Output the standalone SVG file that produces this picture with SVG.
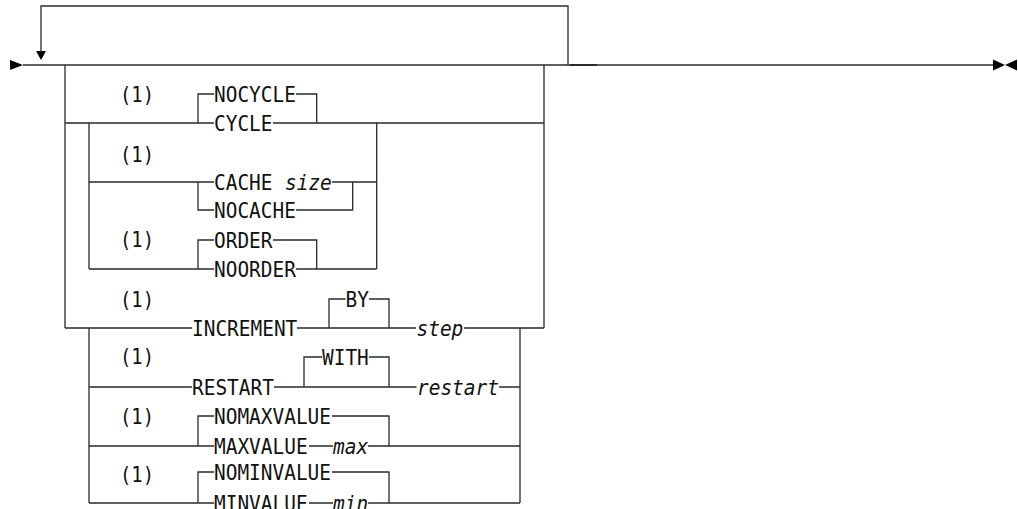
<svg xmlns="http://www.w3.org/2000/svg" width="1018" height="509" viewBox="0 0 1018 509">
<style>
.ln{fill:none;stroke:#2a2a2a;stroke-width:1.3}
.ah{fill:#000}
text{font-family:"DejaVu Sans Mono","Liberation Mono",monospace;font-size:21px;fill:#111}
.it{font-style:italic}
</style>
<rect width="1018" height="509" fill="#fff"/>
<g id="connectors">
<path class="ln" d="M23 65H993"/>
<path class="ln" d="M570 65H597" style="stroke-width:2"/>
<path class="ln" d="M568 65V6H41V52"/>
<path class="ln" d="M65 65V328M544 65V328"/>
<path class="ln" d="M65 123H214M273 123H544M198 123V94H214M296 94H316.7V123"/>
<path class="ln" d="M89 123V269M376.7 123V269"/>
<path class="ln" d="M89 182H214M332 182H376.7M198 182V210H214M296 210H352.7V182"/>
<path class="ln" d="M89 269H214M198 269V240H214M273 240H316.7V269M296 269H376.7"/>
<path class="ln" d="M65 328H192M297 328H416M464 328H544M329 328V299H345.5M369 299H389V328"/>
<path class="ln" d="M89 328V503M520 328V503"/>
<path class="ln" d="M89 387H192M274 387H416.5M499 387H520M304 387V357H322M369 357H389V387"/>
<path class="ln" d="M89 446H214M198 446V416H214M332 416H389V446M309 446H333M368 446H520"/>
<path class="ln" d="M89 503H214M198 503V472H214M332 472H389V503M309 503H333M368 503H520"/>
<polygon class="ah" points="10,60 23,65 10,70"/>
<polygon class="ah" points="36,51 46,51 41,60"/>
<polygon class="ah" points="993,59.5 1005,65 993,70.5"/>
<polygon class="ah" points="1017,59.5 1005,65 1017,70.5"/>
</g>
<g id="cycle">
<text x="120" y="102" textLength="34" lengthAdjust="spacingAndGlyphs">(1)</text>
<text x="214" y="102" textLength="81.9" lengthAdjust="spacingAndGlyphs">NOCYCLE</text>
<text x="214" y="131" textLength="58.5" lengthAdjust="spacingAndGlyphs">CYCLE</text>
</g>
<g id="cache">
<text x="120" y="161.5" textLength="34" lengthAdjust="spacingAndGlyphs">(1)</text>
<text x="214" y="190" textLength="58.5" lengthAdjust="spacingAndGlyphs">CACHE</text>
<text class="it" x="285" y="190" textLength="46.8" lengthAdjust="spacingAndGlyphs">size</text>
<text x="214" y="218" textLength="81.9" lengthAdjust="spacingAndGlyphs">NOCACHE</text>
</g>
<g id="order">
<text x="120" y="247" textLength="34" lengthAdjust="spacingAndGlyphs">(1)</text>
<text x="214" y="248" textLength="58.5" lengthAdjust="spacingAndGlyphs">ORDER</text>
<text x="214" y="277" textLength="81.9" lengthAdjust="spacingAndGlyphs">NOORDER</text>
</g>
<g id="increment">
<text x="120" y="307" textLength="34" lengthAdjust="spacingAndGlyphs">(1)</text>
<text x="192" y="336" textLength="105.3" lengthAdjust="spacingAndGlyphs">INCREMENT</text>
<text x="345.5" y="307" textLength="23.4" lengthAdjust="spacingAndGlyphs">BY</text>
<text class="it" x="416.5" y="336" textLength="46.8" lengthAdjust="spacingAndGlyphs">step</text>
</g>
<g id="restart">
<text x="120" y="364" textLength="34" lengthAdjust="spacingAndGlyphs">(1)</text>
<text x="192" y="395" textLength="81.9" lengthAdjust="spacingAndGlyphs">RESTART</text>
<text x="322" y="365" textLength="46.8" lengthAdjust="spacingAndGlyphs">WITH</text>
<text class="it" x="417" y="395" textLength="81.9" lengthAdjust="spacingAndGlyphs">restart</text>
</g>
<g id="maxvalue">
<text x="120" y="424" textLength="34" lengthAdjust="spacingAndGlyphs">(1)</text>
<text x="214" y="424" textLength="117" lengthAdjust="spacingAndGlyphs">NOMAXVALUE</text>
<text x="214" y="454" textLength="93.6" lengthAdjust="spacingAndGlyphs">MAXVALUE</text>
<text class="it" x="333" y="454" textLength="35.1" lengthAdjust="spacingAndGlyphs">max</text>
</g>
<g id="minvalue">
<text x="120" y="482" textLength="34" lengthAdjust="spacingAndGlyphs">(1)</text>
<text x="214" y="480" textLength="117" lengthAdjust="spacingAndGlyphs">NOMINVALUE</text>
<text x="214" y="511" textLength="93.6" lengthAdjust="spacingAndGlyphs">MINVALUE</text>
<text class="it" x="333" y="511" textLength="35.1" lengthAdjust="spacingAndGlyphs">min</text>
</g>
</svg>
